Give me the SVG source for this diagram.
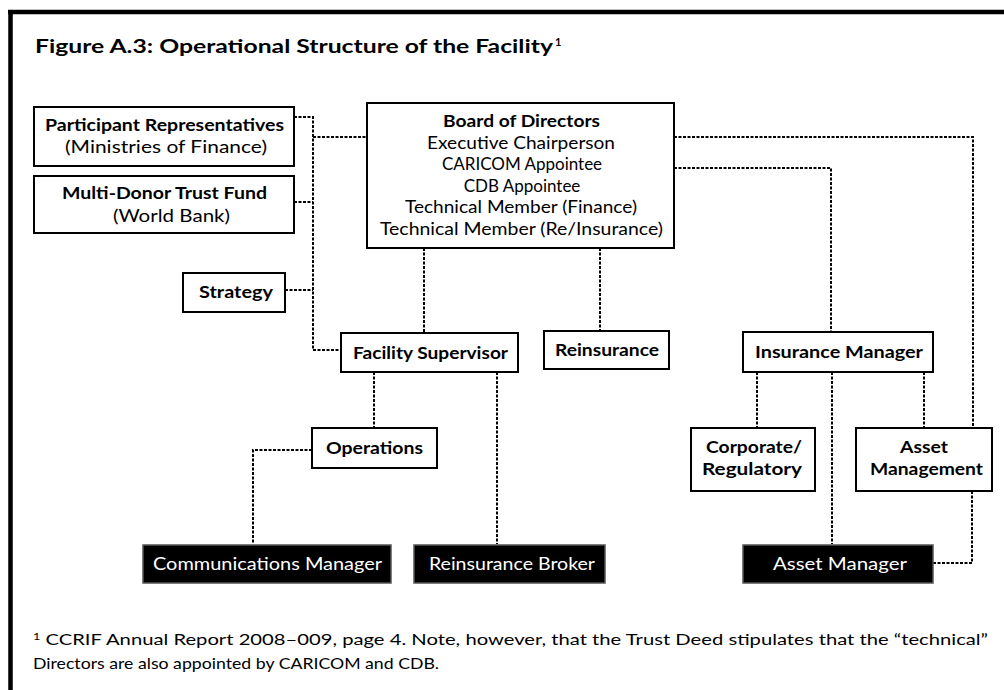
<svg xmlns="http://www.w3.org/2000/svg" width="1004" height="690" viewBox="0 0 1004 690">
  <style>
    text { font-family: Lato, "Liberation Sans", sans-serif; fill: #000; }
    .b { font-weight: 700; font-size: 17px; }
    .r { font-weight: 400; font-size: 17px; }
    .title { font-weight: 700; font-size: 19px; }
    .inv { font-weight: 400; font-size: 17.5px; fill: #fff; }
    .foot { font-weight: 400; font-size: 16px; }
    .box { fill: #fff; stroke: #000; stroke-width: 2; }
    .dark { fill: #000; stroke: #555; stroke-width: 1.5; }
    .link { fill: none; stroke: #000; stroke-width: 2; stroke-dasharray: 3 1.5; }
    .frame { stroke: #000; stroke-width: 4.5; }
  </style>

  <rect x="0" y="0" width="1004" height="690" fill="#fff"/>

  <!-- page frame -->
  <line class="frame" x1="8" y1="12" x2="1004" y2="12"/>
  <line class="frame" x1="10.5" y1="10" x2="10.5" y2="690"/>

  <!-- heading -->
  <text class="title" x="35" y="53" textLength="518" lengthAdjust="spacingAndGlyphs">Figure A.3: Operational Structure of the Facility</text>
  <text x="555" y="46" style="font-size:11px;font-weight:700">1</text>

  <!-- connectors -->
  <g id="connectors">
    <path class="link" d="M294,117 H313 V350 H341"/>
    <path class="link" d="M313,137 H367"/>
    <path class="link" d="M294,202 H313"/>
    <path class="link" d="M285,290 H313"/>
    <path class="link" d="M674,137 H973 V428"/>
    <path class="link" d="M674,168 H831 V332"/>
    <path class="link" d="M424,248 V333"/>
    <path class="link" d="M600,248 V331"/>
    <path class="link" d="M374,372 V428"/>
    <path class="link" d="M497,372 V544"/>
    <path class="link" d="M312,450 H253 V544"/>
    <path class="link" d="M757,372 V428"/>
    <path class="link" d="M832,372 V544"/>
    <path class="link" d="M924,372 V428"/>
    <path class="link" d="M972,491 V563 H933"/>
  </g>

  <g id="participant-representatives">
    <rect class="box" x="34" y="107" width="260" height="59"/>
    <text class="b" x="164.5" y="131" text-anchor="middle" textLength="239" lengthAdjust="spacingAndGlyphs">Participant Representatives</text>
    <text class="r" x="166" y="153" text-anchor="middle" textLength="202" lengthAdjust="spacingAndGlyphs">(Ministries of Finance)</text>
  </g>

  <g id="multi-donor-trust-fund">
    <rect class="box" x="34" y="176" width="260" height="57"/>
    <text class="b" x="164.5" y="199" text-anchor="middle" textLength="205" lengthAdjust="spacingAndGlyphs">Multi-Donor Trust Fund</text>
    <text class="r" x="171.5" y="222" text-anchor="middle" textLength="117" lengthAdjust="spacingAndGlyphs">(World Bank)</text>
  </g>

  <g id="board-of-directors">
    <rect class="box" x="367" y="103" width="307" height="145"/>
    <text class="b" x="521.5" y="127" text-anchor="middle" textLength="157" lengthAdjust="spacingAndGlyphs">Board of Directors</text>
    <text class="r" x="521" y="148.5" text-anchor="middle" textLength="188" lengthAdjust="spacingAndGlyphs">Executive Chairperson</text>
    <text class="r" x="522" y="170" text-anchor="middle">CARICOM Appointee</text>
    <text class="r" x="522" y="191.5" text-anchor="middle">CDB Appointee</text>
    <text class="r" x="521" y="213" text-anchor="middle" textLength="232" lengthAdjust="spacingAndGlyphs">Technical Member (Finance)</text>
    <text class="r" x="521.5" y="234.5" text-anchor="middle" textLength="283" lengthAdjust="spacingAndGlyphs">Technical Member (Re/Insurance)</text>
  </g>

  <g id="strategy">
    <rect class="box" x="183" y="273" width="102" height="39"/>
    <text class="b" x="236" y="298" text-anchor="middle" textLength="74" lengthAdjust="spacingAndGlyphs">Strategy</text>
  </g>

  <g id="facility-supervisor">
    <rect class="box" x="341" y="333" width="177" height="39"/>
    <text class="b" x="430.5" y="359" text-anchor="middle" textLength="155" lengthAdjust="spacingAndGlyphs">Facility Supervisor</text>
  </g>

  <g id="reinsurance">
    <rect class="box" x="544" y="331" width="125" height="38"/>
    <text class="b" x="607" y="356" text-anchor="middle" textLength="104" lengthAdjust="spacingAndGlyphs">Reinsurance</text>
  </g>

  <g id="insurance-manager">
    <rect class="box" x="743" y="332" width="190" height="40"/>
    <text class="b" x="839" y="358" text-anchor="middle" textLength="168" lengthAdjust="spacingAndGlyphs">Insurance Manager</text>
  </g>

  <g id="operations">
    <rect class="box" x="312" y="428" width="125" height="40"/>
    <text class="b" x="374.5" y="454" text-anchor="middle" textLength="97" lengthAdjust="spacingAndGlyphs">Operations</text>
  </g>

  <g id="corporate-regulatory">
    <rect class="box" x="691" y="428" width="124" height="63"/>
    <text class="b" x="754" y="453" text-anchor="middle" textLength="96" lengthAdjust="spacingAndGlyphs">Corporate/</text>
    <text class="b" x="752" y="475" text-anchor="middle" textLength="100" lengthAdjust="spacingAndGlyphs">Regulatory</text>
  </g>

  <g id="asset-management">
    <rect class="box" x="856" y="428" width="136" height="63"/>
    <text class="b" x="924" y="453" text-anchor="middle" textLength="48" lengthAdjust="spacingAndGlyphs">Asset</text>
    <text class="b" x="926.5" y="475" text-anchor="middle" textLength="113" lengthAdjust="spacingAndGlyphs">Management</text>
  </g>

  <g id="communications-manager">
    <rect class="dark" x="143" y="545" width="248" height="38"/>
    <text class="inv" x="267.5" y="570" text-anchor="middle" textLength="229" lengthAdjust="spacingAndGlyphs">Communications Manager</text>
  </g>

  <g id="reinsurance-broker">
    <rect class="dark" x="414" y="545" width="191" height="38"/>
    <text class="inv" x="512" y="570" text-anchor="middle" textLength="166" lengthAdjust="spacingAndGlyphs">Reinsurance Broker</text>
  </g>

  <g id="asset-manager">
    <rect class="dark" x="743" y="545" width="190" height="38"/>
    <text class="inv" x="840" y="570" text-anchor="middle" textLength="134" lengthAdjust="spacingAndGlyphs">Asset Manager</text>
  </g>

  <!-- footnote -->
  <text class="foot" x="33" y="645" textLength="955" lengthAdjust="spacingAndGlyphs"><tspan style="font-size:10px" dy="-5">1</tspan><tspan dy="5"> CCRIF Annual Report 2008–009, page 4. Note, however, that the Trust Deed stipulates that the “technical”</tspan></text>
  <text class="foot" x="33" y="669" textLength="406" lengthAdjust="spacingAndGlyphs">Directors are also appointed by CARICOM and CDB.</text>
</svg>
